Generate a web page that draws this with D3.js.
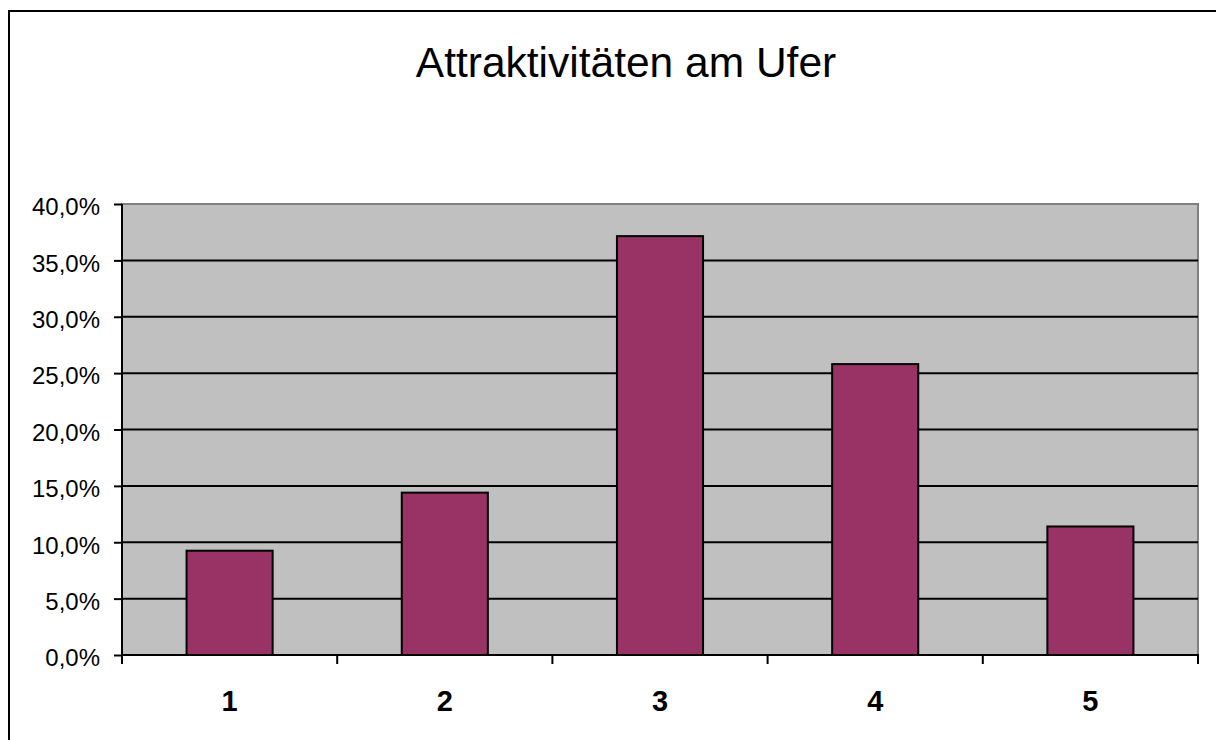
<!DOCTYPE html>
<html>
<head>
<meta charset="utf-8">
<script src="https://cdn.jsdelivr.net/npm/d3@7"></script>
<style>
    body { margin: 0; background: #fff; }
    svg { display: block; }
</style>
</head>
<body>
<div id="chart"></div>
<script>
// Attraktivitäten am Ufer
let categories = ["1", "2", "3", "4", "5"];
let values = [9.25, 14.4, 37.15, 25.8, 11.4];
let yTicks = [0, 5, 10, 15, 20, 25, 30, 35, 40];
let title = "Attraktivitäten am Ufer";

let width = 1216;
let height = 740;
let margins = {
    top: 204,
    right: 18,
    bot: 85,
    left: 122
};
let chartWidth = width - margins.left - margins.right;
let chartHeight = height - margins.top - margins.bot;
let font = "Liberation Sans, Arial, sans-serif";

let svg = d3.select("#chart")
    .append("svg")
    .attr("width", width)
    .attr("height", height);

// outer frame
svg.append("rect")
    .attr("x", 9)
    .attr("y", 11)
    .attr("width", width + 20)
    .attr("height", height + 20)
    .attr("fill", "none")
    .attr("stroke", "#000")
    .attr("stroke-width", 2);

svg.append("text")
    .attr("x", 626)
    .attr("y", 77)
    .attr("text-anchor", "middle")
    .style("font-family", font)
    .style("font-size", "42.5px")
    .text(title);

let g = svg.append("g")
    .attr("transform", "translate(" + margins.left + "," + margins.top + ")");

let xScale = d3.scaleBand()
    .domain(categories)
    .range([0, chartWidth])
    .paddingInner(0.6)
    .paddingOuter(0.3);

let yScale = d3.scaleLinear()
    .domain([0, 40])
    .range([chartHeight, 0]);

// plot area
g.append("rect")
    .attr("width", chartWidth)
    .attr("height", chartHeight)
    .attr("fill", "#c0c0c0")
    .attr("stroke", "#808080")
    .attr("stroke-width", 2);

// gridlines
g.selectAll(".grid")
    .data(yTicks.filter(d => d > 0 && d < 40))
    .enter()
    .append("line")
    .attr("x1", 0)
    .attr("x2", chartWidth)
    .attr("y1", d => yScale(d))
    .attr("y2", d => yScale(d))
    .attr("stroke", "#000")
    .attr("stroke-width", 2);

g.selectAll(".bar")
    .data(values)
    .enter()
    .append("rect")
    .attr("x", (d, i) => xScale(categories[i]))
    .attr("y", d => yScale(d))
    .attr("width", xScale.bandwidth())
    .attr("height", d => chartHeight - yScale(d))
    .attr("fill", "#993366")
    .attr("stroke", "#000")
    .attr("stroke-width", 2);

// y axis
let yAxis = g.append("g")
    .call(d3.axisLeft(yScale)
        .tickValues(yTicks)
        .tickSize(8)
        .tickPadding(14)
        .tickFormat(d => d3.format(".1f")(d).replace(".", ",") + "%"));
yAxis.select(".domain").attr("stroke-width", 2).attr("d", "M0," + (chartHeight + 1) + "V0");
yAxis.selectAll(".tick line").attr("stroke-width", 2);
yAxis.selectAll("text")
    .attr("dy", "0.45em")
    .style("font-family", font)
    .style("font-size", "24px")
    .attr("fill", "#000");

// x axis with ticks at category boundaries
let boundaryScale = d3.scaleLinear()
    .domain([0, categories.length])
    .range([0, chartWidth]);
let xAxis = g.append("g")
    .attr("transform", "translate(0," + chartHeight + ")");
xAxis.append("line")
    .attr("x1", -1)
    .attr("x2", chartWidth + 1)
    .attr("stroke", "#000")
    .attr("stroke-width", 2);
xAxis.selectAll(".xtick")
    .data(d3.range(categories.length + 1))
    .enter()
    .append("line")
    .attr("x1", d => boundaryScale(d))
    .attr("x2", d => boundaryScale(d))
    .attr("y1", 0)
    .attr("y2", 9)
    .attr("stroke", "#000")
    .attr("stroke-width", 2);
xAxis.selectAll(".xlabel")
    .data(categories)
    .enter()
    .append("text")
    .attr("x", d => xScale(d) + xScale.bandwidth() / 2)
    .attr("y", 56)
    .attr("text-anchor", "middle")
    .style("font-family", font)
    .style("font-size", "29px")
    .style("font-weight", "bold")
    .text(d => d);
</script>
</body>
</html>
